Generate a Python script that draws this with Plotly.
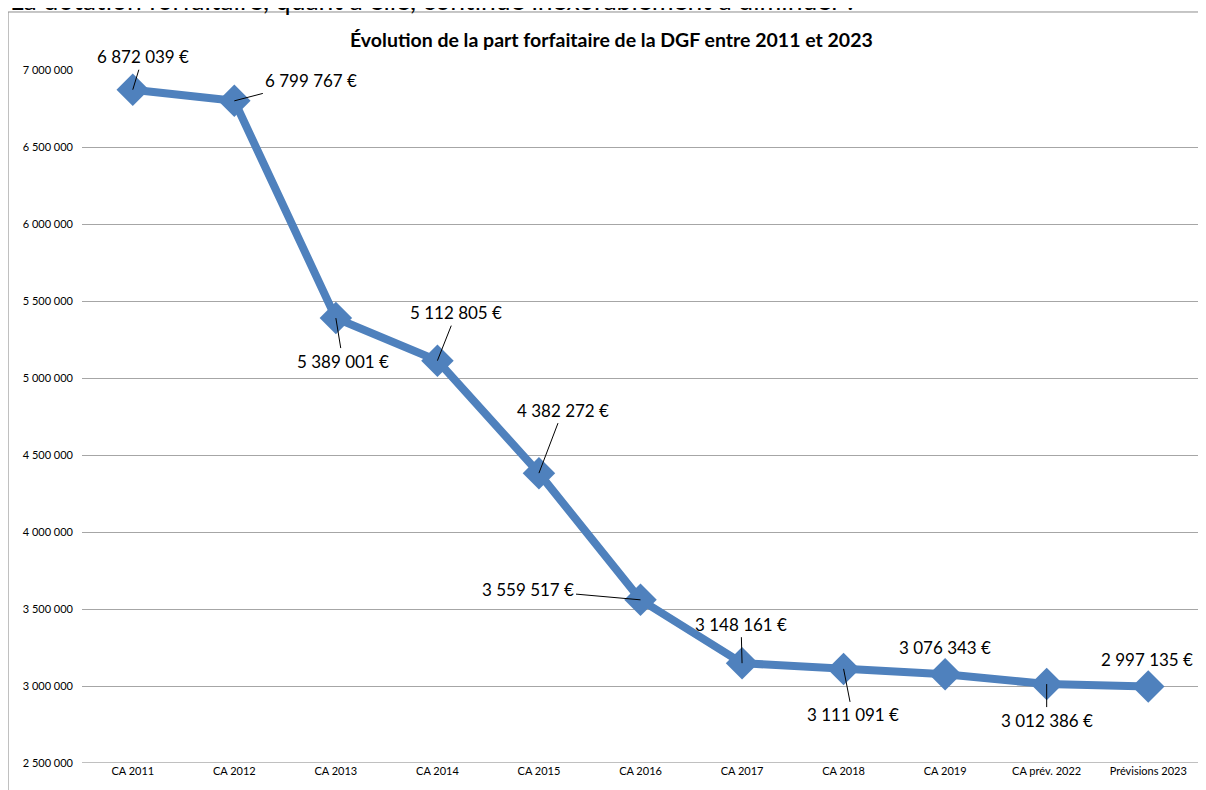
import plotly.graph_objects as go

categories = ["CA 2011", "CA 2012", "CA 2013", "CA 2014", "CA 2015", "CA 2016",
              "CA 2017", "CA 2018", "CA 2019", "CA prév. 2022", "Prévisions 2023"]
values = [6872039, 6799767, 5389001, 5112805, 4382272, 3559517,
          3148161, 3111091, 3076343, 3012386, 2997135]
label_texts = ["6 872 039 €", "6 799 767 €", "5 389 001 €", "5 112 805 €", "4 382 272 €",
               "3 559 517 €", "3 148 161 €", "3 111 091 €", "3 076 343 €", "3 012 386 €",
               "2 997 135 €"]
# label offsets in pixels (text centre relative to point) and whether a leader line is drawn
label_dx = [10, 77, 7, 19, 24, -113, -1, 9, 0, 0, -1]
label_dy = [-33, -20, 43, -48, -63, -10, -39, 46, -27, 36, -27]
leader = [True, True, True, True, True, True, True, True, False, True, False]

y_ticks = [2500000 + 500000 * i for i in range(10)]
y_tick_text = [f"{v:,}".replace(",", " ") for v in y_ticks]

BLUE = "#4F81BD"
FONT = "Lato"

fig = go.Figure()
fig.add_trace(go.Scatter(
    x=categories, y=values, mode="lines+markers",
    line=dict(color=BLUE, width=8),
    marker=dict(symbol="diamond", size=25, color=BLUE, line=dict(width=0)),
    showlegend=False, hoverinfo="skip",
))

annotations = []
for c, v, t, dx, dy, ld in zip(categories, values, label_texts, label_dx, label_dy, leader):
    annotations.append(dict(
        x=c, y=v, xref="x", yref="y", text=t, showarrow=True,
        ax=dx, ay=dy, arrowhead=0, arrowwidth=1,
        arrowcolor="black" if ld else "rgba(0,0,0,0)",
        standoff=0, startstandoff=0, borderpad=2,
        font=dict(family=FONT, size=17, color="black"),
    ))

annotations.append(dict(
    text="<b>Évolution de la part forfaitaire de la DGF entre 2011 et 2023</b>",
    xref="paper", yref="paper", x=0.4736, y=1.0433, xanchor="center", yanchor="middle",
    showarrow=False, font=dict(family=FONT, size=19.5, color="black"),
))
annotations.append(dict(
    text="La dotation forfaitaire, quant à elle, continue inexorablement à diminuer :",
    xref="paper", yref="paper", x=-0.0662, y=1.1011, xanchor="left", yanchor="middle",
    showarrow=False, font=dict(family=FONT, size=26.5, color="black"),
))

fig.update_layout(
    width=1198, height=782,
    margin=dict(l=74, r=7, t=62, b=27),
    paper_bgcolor="white", plot_bgcolor="white",
    font=dict(family=FONT, color="black"),
    annotations=annotations,
    shapes=[dict(type="rect", xref="paper", yref="paper",
                 x0=-0.0662, x1=1.02, y0=-0.06, y1=1.0837,
                 line=dict(color="#8c8c8c", width=1), fillcolor="rgba(0,0,0,0)",
                 layer="below")],
)
fig.update_xaxes(
    type="category", showgrid=False, showline=False, zeroline=False,
    ticks="", tickfont=dict(family=FONT, size=11, color="black"),
    range=[-0.5, len(categories) - 0.5], fixedrange=True,
)
fig.update_yaxes(
    range=[2500000, 7000000], tickvals=y_ticks, ticktext=y_tick_text,
    showgrid=True, gridcolor="#a6a6a6", gridwidth=1, zeroline=False,
    showline=False, ticks="", ticklabelstandoff=8,
    tickfont=dict(family=FONT, size=11, color="black"), fixedrange=True,
)
fig.add_hline(y=2500000, line=dict(color="#808080", width=1))

fig.write_html("out.html")
